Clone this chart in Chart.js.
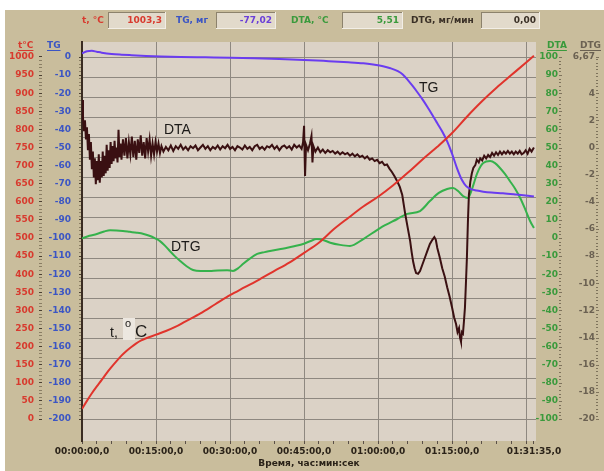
<!DOCTYPE html>
<html>
<head>
<meta charset="utf-8">
<script src="https://cdn.jsdelivr.net/npm/chart.js@4.4.1/dist/chart.umd.min.js"></script>
<style>
  body { margin: 0; background: #fff; }
  canvas { display: block; }
</style>
</head>
<body>
<canvas id="thermoChart" width="604" height="471"></canvas>
<script>
// all curves are [minutes from start, value]
const tempCurve = [[0,28],[1,50],[2,71],[3,90],[4,108],[5,127],[6,144],[7,160],[8,175],[9,188],[10,199],
  [11,209],[12,217],[13,223],[14,228],[15,233],[17,243],[19,255],[21,270],[24,292],[27,317],[30,342],
  [33,364],[36,386],[39,409],[42,432],[45,459],[48,487],[51,524],[54,556],[57,587],[60,614],[63,645],
  [66,680],[69,717],[72,752],[75,790],[78,835],[81,877],[84,915],[87,950],[90,985],[91.58,1003.3]];

const tgCurve = [[0,2.0],[1,3.2],[2,3.4],[3,2.9],[4,2.4],[6,1.7],[8,1.3],[10,1.0],[13,0.6],[16,0.3],
  [20,0.0],[25,-0.2],[30,-0.4],[35,-0.7],[40,-1.1],[45,-1.6],[50,-2.3],[54,-2.9],[57,-3.5],[59,-4.2],
  [61,-5.1],[62.5,-6.2],[64,-7.8],[65,-9.6],[66,-12.6],[67,-16.0],[68,-19.6],[69,-23.4],[70,-27.6],
  [71,-32.0],[72,-36.6],[73,-41.2],[74,-46.6],[75,-53.5],[76,-61.5],[77,-68.0],[77.8,-71.2],[78.7,-72.9],
  [80,-73.8],[81.3,-74.4],[83,-74.9],[85.3,-75.3],[88,-76.0],[91.58,-77.02]];

// green curve, read on the DTA scale
const dtaCurve = [[0,-0.2],[1.5,1.2],[3,2.2],[4.5,3.6],[5.7,4.3],[7,4.2],[8.3,3.9],[9.7,3.4],[11.1,2.9],
  [12.5,2.2],[13.8,1.1],[14.8,-0.2],[15.8,-1.7],[16.8,-4.2],[17.8,-7.2],[18.8,-10.0],[19.9,-12.7],
  [21.2,-15.6],[22.5,-17.7],[24,-18.3],[25.9,-18.2],[27.5,-17.9],[29.4,-17.8],[30.6,-18.2],[31.6,-16.8],
  [32.6,-14.4],[34,-11.4],[35.5,-8.8],[37,-7.8],[38.1,-7.2],[40,-6.2],[41.6,-5.4],[43.2,-4.4],[44.8,-3.3],
  [46.2,-1.8],[47.6,-0.6],[49,-1.2],[50.3,-2.6],[52.3,-3.8],[54.3,-4.4],[57,-0.6],[60.4,5.5],[63.9,10.5],
  [65.9,13.3],[68.5,14.9],[70.5,20.4],[72.3,24.9],[74,27.1],[75.2,27.6],[76.2,26.0],[77.2,23.2],[78.2,22.1],
  [79.1,27.6],[80.1,35.9],[81.3,41.4],[82.7,42.5],[83.7,41.4],[84.7,38.7],[85.7,35.4],[86.7,31.5],
  [87.8,27.1],[88.8,22.1],[89.8,16.0],[90.8,9.4],[91.58,5.51]];

// dark curve, read on the DTG scale
const dtgCurve = [[0,3.5],[0.2,2.2],[0.4,1.2],[0.6,2.0],[0.8,0.6],[1.0,1.5],[1.2,-0.2],[1.4,1.0],[1.6,-0.9],[1.8,0.4],
  [2.0,-1.6],[2.2,-0.3],[2.4,-2.2],[2.6,-0.8],[2.8,-2.7],[3.0,-1.0],[3.2,-2.4],[3.4,-0.5],[3.6,-2.6],[3.8,-1.0],
  [4.0,-2.2],[4.2,-0.3],[4.4,-2.1],[4.6,-0.6],[4.8,-1.9],[5.0,0.2],[5.2,-1.7],[5.4,-0.2],[5.6,-1.5],[5.8,0.4],
  [6.0,-1.2],[6.2,0.1],[6.4,-1.0],[6.6,0.5],[6.8,-0.8],[7.0,0.0],[7.2,-1.1],[7.4,1.3],[7.6,-0.7],[7.8,0.3],
  [8.0,-0.9],[8.3,0.6],[8.6,-0.6],[8.9,0.7],[9.2,-0.8],[9.5,0.4],[9.8,-0.5],[10.1,0.8],[10.4,-0.7],[10.7,0.5],
  [11.0,-0.9],[11.3,0.6],[11.6,-0.4],[11.9,0.9],[12.2,-0.6],[12.5,0.4],[12.8,-0.8],[13.1,0.7],[13.4,-0.3],[13.7,0.6],
  [14.0,-0.6],[14.3,0.3],[14.6,-0.5],[14.9,0.4],[15.2,-0.3],[15.5,0.3],[15.8,-0.4],[16.1,0.1],[16.5,-0.3],[17.0,0.05],
  [17.5,-0.2],[18,0.15],[18.5,-0.25],[19,0.1],[19.5,-0.1],[20,0.2],[20.5,-0.15],[21,0.05],[21.5,-0.2],[22,0.1],
  [22.5,-0.05],[23,0.15],[23.5,-0.2],[24,0.0],[24.5,0.2],[25,-0.1],[25.5,0.1],[26,-0.2],[26.5,0.05],[27,-0.1],
  [27.5,0.15],[28,-0.15],[28.5,0.1],[29,-0.05],[29.5,0.2],[30,-0.1],[30.5,0.05],[31,-0.2],[31.5,0.1],[32,0.0],
  [32.5,-0.15],[33,0.15],[33.5,-0.1],[34,0.05],[34.5,-0.2],[35,0.1],[35.5,0.2],[36,-0.1],[36.5,0.05],[37,-0.15],
  [37.5,0.1],[38,0.0],[38.5,0.2],[39,-0.1],[39.5,0.1],[40,-0.2],[40.5,0.05],[41,0.15],[41.5,-0.05],[42,0.1],
  [42.5,-0.15],[43,0.2],[43.5,0.0],[44,0.15],[44.5,-0.1],
  [44.8,0.4],[45.0,1.6],[45.2,-2.1],[45.4,0.2],[45.8,-0.2],[46.2,0.3],[46.5,0.85],[46.7,-1.1],[46.9,0.1],[47.3,-0.3],
  [47.8,0.0],[48.3,-0.35],[48.8,-0.15],[49.3,-0.4],[49.8,-0.2],
  [50.3,-0.35],[50.8,-0.25],[51.3,-0.45],[51.8,-0.3],[52.3,-0.5],[52.8,-0.35],[53.3,-0.5],[53.8,-0.4],[54.3,-0.6],[54.8,-0.45],
  [55.3,-0.65],[55.8,-0.5],[56.3,-0.7],[56.8,-0.6],[57.3,-0.8],[57.8,-0.65],[58.3,-0.9],[58.8,-0.8],[59.3,-1.0],[59.8,-0.9],
  [60.3,-1.15],[60.8,-1.05],[61.3,-1.3],[61.8,-1.25],[62.3,-1.55],[62.8,-1.8],[63.3,-2.1],[63.9,-2.5],[64.4,-2.9],[64.9,-3.5],
  [65.2,-4.2],[65.5,-4.9],[66.0,-5.9],[66.5,-6.9],[66.8,-7.7],[67.1,-8.4],[67.4,-8.9],[67.7,-9.25],[68.1,-9.3],[68.5,-9.1],
  [69.0,-8.6],[69.5,-8.1],[70.0,-7.6],[70.5,-7.1],[71.0,-6.8],[71.4,-6.6],[71.7,-6.8],[72.0,-7.4],[72.5,-8.1],[73.0,-8.9],
  [73.5,-9.5],[74.0,-10.3],[74.5,-11.0],[75.0,-11.8],[75.4,-12.5],[75.8,-13.0],[76.1,-13.6],[76.4,-13.3],[76.6,-14.0],[76.8,-14.3],
  [77.0,-13.6],[77.2,-13.7],[77.4,-12.8],[77.6,-11.8],[77.8,-10.0],[78.0,-8.1],[78.2,-5.5],[78.4,-3.5],[78.7,-2.5],[79.0,-1.9],
  [79.3,-1.5],[79.7,-1.3],[80.0,-0.9],[80.4,-1.1],[80.7,-0.8],[81.1,-0.95],[81.5,-0.6],[81.9,-0.8],[82.3,-0.55],[82.7,-0.7],
  [83.1,-0.4],[83.5,-0.6],[83.9,-0.35],[84.3,-0.55],[84.7,-0.3],[85.1,-0.5],[85.5,-0.3],[85.9,-0.45],[86.3,-0.25],[86.7,-0.45],
  [87.1,-0.3],[87.5,-0.5],[87.9,-0.3],[88.3,-0.45],[88.7,-0.25],[89.1,-0.5],[89.5,-0.4],[89.9,-0.2],[90.3,-0.45],[90.7,-0.1],
  [91.1,-0.3],[91.58,0.0]];

// time axis
const timeTicks = [0, 15, 30, 45, 60, 75, 91.5833];
const timeTickLabels = ['00:00:00,0', '00:15:00,0', '00:30:00,0', '00:45:00,0', '01:00:00,0', '01:15:00,0', '01:31:35,0'];
const timeGridStep = 15;
const timeMinorStep = 3;

// vertical axes: labelled range and label step
const tempRange = [0, 1000], tempStep = 50;
const tgRange = [-200, 0], tgStep = 10;
const dtaRange = [-100, 100], dtaStep = 10;
const dtgTicks = [6.67, 4, 2, 0, -2, -4, -6, -8, -10, -12, -14, -16, -18, -20];
const dtgTickLabels = ['6,67', '4', '2', '0', '-2', '-4', '-6', '-8', '-10', '-12', '-14', '-16', '-18', '-20'];

// readout bar
const readoutNames = ['t, °C', 'TG, мг', 'DTA, °C', 'DTG, мг/мин'];
const readoutValues = ['1003,3', '-77,02', '5,51', '0,00'];

const RED = '#d83a2e', BLUE = '#3b55c4', GREEN = '#3a9a3c', GREY = '#6b6152';

// all y scales put their first and last label on the same pixel rows
const TICK_TOP = 57, TICK_BOTTOM = 419, AREA_TOP = 42, AREA_BOTTOM = 441;
function paddedRange(lo, hi) {
    const perPx = (hi - lo) / (TICK_BOTTOM - TICK_TOP);
    return { min: lo - (AREA_BOTTOM - TICK_BOTTOM) * perPx, max: hi + (TICK_TOP - AREA_TOP) * perPx };
}

function toPoints(curve) {
    return curve.map(p => ({ x: p[0], y: p[1] }));
}

function stepTicks(lo, hi, step) {
    const out = [];
    for (let k = Math.round(lo / step); k <= Math.round(hi / step); k++) out.push({ value: k * step });
    return out;
}

const axisFont = { family: '"DejaVu Sans", Verdana, sans-serif', size: 9, weight: 'bold' };

function leftAxis(range, step, color, weight, width, padding) {
    const r = paddedRange(range[0], range[1]);
    const minor = step / 5;
    return {
        position: 'left', weight: weight, min: r.min, max: r.max,
        afterBuildTicks: axis => { axis.ticks = stepTicks(range[0], range[1], minor); },
        afterFit: axis => { axis.width = width; },
        grid: {
            drawOnChartArea: false, tickLength: 3,
            tickColor: ctx => Math.abs(ctx.tick.value % step) < 1e-6 ? '#4b4032' : '#8a7e64'
        },
        border: { display: false },
        ticks: {
            color: color, font: axisFont, padding: padding, autoSkip: false,
            callback: v => Math.abs(v % step) < 1e-6 ? String(Math.round(v)) : ''
        }
    };
}

function rightAxis(range, minor, isLabel, label, color, weight, width) {
    const r = paddedRange(range[0], range[1]);
    return {
        position: 'right', weight: weight, min: r.min, max: r.max,
        afterFit: axis => { axis.width = width; },
        grid: { drawOnChartArea: false, drawTicks: false },
        border: { display: false },
        ticks: {
            color: color, font: axisFont, padding: 0, autoSkip: false, crossAlign: 'far',
            callback: v => isLabel(v) ? label(v) : ''
        },
        minorStep: minor
    };
}

const dtaAxis = rightAxis(dtaRange, 2, v => Math.abs(v % dtaStep) < 1e-6, v => String(Math.round(v)), GREEN, 1, 22);
dtaAxis.afterBuildTicks = axis => { axis.ticks = stepTicks(dtaRange[0], dtaRange[1], 2); };

const dtgIndex = v => dtgTicks.findIndex(t => Math.abs(t - v) < 1e-6);
const dtgAxis = rightAxis([dtgTicks[dtgTicks.length - 1], dtgTicks[0]], 0.25, v => dtgIndex(v) >= 0,
    v => dtgTickLabels[dtgIndex(v)], GREY, 2, 37);
dtgAxis.afterBuildTicks = axis => {
    const t = stepTicks(dtgTicks[dtgTicks.length - 1], 6.5, 0.25);
    t.push({ value: dtgTicks[0] });
    axis.ticks = t;
};

const gridRange = paddedRange(0, 18);

const panelPlugin = {
    id: 'panel',
    beforeDraw(chart) {
        const { ctx, chartArea: a } = chart;
        ctx.save();
        ctx.fillStyle = '#ffffff';
        ctx.fillRect(0, 0, chart.width, chart.height);
        ctx.fillStyle = '#c9bd9c';
        ctx.fillRect(5, 10, chart.width - 5, chart.height - 10);
        ctx.fillStyle = '#dbd2c6';
        ctx.fillRect(a.left, a.top, a.right - a.left, a.bottom - a.top);
        ctx.restore();
    },
    afterDatasetsDraw(chart) {
        const ctx = chart.ctx;
        ctx.save();
        ctx.fillStyle = '#1c1a18';
        ctx.textBaseline = 'middle';
        ctx.font = '14px "Liberation Sans", Arial, sans-serif';
        ctx.fillText('TG', 419, 88);
        ctx.fillText('DTA', 164, 130);
        ctx.fillText('DTG', 171, 247);
        ctx.fillText('t,', 110, 333);
        ctx.fillStyle = '#ece7e0';
        ctx.fillRect(123, 318, 12, 22);
        ctx.fillStyle = '#1c1a18';
        ctx.font = '11px "Liberation Sans", Arial, sans-serif';
        ctx.fillText('o', 125, 324);
        ctx.font = '17px "Liberation Sans", Arial, sans-serif';
        ctx.fillText('C', 135, 332);
        ctx.restore();
    },
    afterDraw(chart) {
        const ctx = chart.ctx;
        ctx.save();
        // dotted tick columns of the right-hand scales
        ['yDTA', 'yDTG'].forEach(id => {
            const s = chart.scales[id];
            ctx.strokeStyle = '#7e735c';
            ctx.lineWidth = 1;
            s.ticks.forEach(t => {
                const y = Math.round(s.getPixelForValue(t.value)) + 0.5;
                ctx.beginPath();
                ctx.moveTo(s.right + 1, y);
                ctx.lineTo(s.right + (t.label ? 4 : 3), y);
                ctx.stroke();
            });
        });
        // scale headers
        ctx.font = 'bold 9px "DejaVu Sans", Verdana, sans-serif';
        ctx.textBaseline = 'alphabetic';
        const heads = [['t°C', 18, RED], ['TG', 47, BLUE], ['DTA', 547, GREEN], ['DTG', 580, GREY]];
        heads.forEach(h => {
            ctx.fillStyle = h[2];
            ctx.fillText(h[0], h[1], 48);
            const w = ctx.measureText(h[0]).width;
            ctx.fillRect(h[1], 50, w, 1);
        });
        // readout bar
        const slots = [[82, 108, 58], [176, 216, 60], [291, 342, 61], [411, 481, 59]];
        const colors = [RED, '#6a3fd8', GREEN, '#3a3026'];
        const nameColors = [RED, BLUE, GREEN, '#3a3026'];
        slots.forEach((s, i) => {
            const y0 = 12, h = 17;
            ctx.fillStyle = '#e2dacb';
            ctx.fillRect(s[1], y0, s[2], h);
            ctx.fillStyle = '#8c826c';
            ctx.fillRect(s[1], y0, s[2], 1);
            ctx.fillRect(s[1], y0, 1, h);
            ctx.fillStyle = '#f2eee6';
            ctx.fillRect(s[1], y0 + h - 1, s[2], 1);
            ctx.fillRect(s[1] + s[2] - 1, y0, 1, h);
            ctx.textBaseline = 'middle';
            ctx.textAlign = 'left';
            ctx.fillStyle = nameColors[i];
            ctx.fillText(readoutNames[i], s[0], y0 + h / 2);
            ctx.textAlign = 'right';
            ctx.fillStyle = colors[i];
            ctx.fillText(readoutValues[i], s[1] + s[2] - 4, y0 + h / 2);
        });
        ctx.restore();
    }
};

function line(curve, axis, color, tension) {
    return {
        data: toPoints(curve), yAxisID: axis, borderColor: color, borderWidth: 2,
        pointRadius: 0, fill: false, tension: tension,
        cubicInterpolationMode: tension ? 'monotone' : 'default'
    };
}

new Chart(document.getElementById('thermoChart'), {
    type: 'line',
    data: {
        datasets: [
            line(tempCurve, 'yT', '#e0342c', 0.4),
            line(tgCurve, 'yTG', '#6a3cf0', 0.4),
            line(dtgCurve, 'yDTG', '#3a1012', 0),
            line(dtaCurve, 'yDTA', '#35b24c', 0.4)
        ]
    },
    options: {
        responsive: false,
        animation: false,
        devicePixelRatio: 1,
        layout: { padding: { top: AREA_TOP, left: 0, right: 9, bottom: 0 } },
        plugins: { legend: { display: false }, tooltip: { enabled: false } },
        scales: {
            x: {
                type: 'linear', min: 0, max: 92,
                afterBuildTicks: axis => {
                    const t = stepTicks(0, 90, timeMinorStep);
                    t.push({ value: timeTicks[timeTicks.length - 1] });
                    axis.ticks = t;
                },
                afterFit: axis => { axis.height = 30; },
                grid: {
                    color: ctx => (ctx.tick && Math.abs(ctx.tick.value % timeGridStep) < 1e-6) ? '#8e8880' : 'rgba(0,0,0,0)',
                    tickColor: '#5b5048', tickLength: 3
                },
                border: { display: false },
                ticks: {
                    autoSkip: false, maxRotation: 0, padding: 2, color: '#2a2218', font: axisFont,
                    callback: v => {
                        const i = timeTicks.findIndex(t => Math.abs(t - v) < 0.01);
                        return i >= 0 ? timeTickLabels[i] : '';
                    }
                },
                title: {
                    display: true, text: 'Время, час:мин:сек', color: '#2a2218', font: axisFont,
                    padding: { top: 0, bottom: 2 }
                }
            },
            yT: leftAxis(tempRange, tempStep, RED, 2, 42, 5),
            yTG: Object.assign(leftAxis(tgRange, tgStep, BLUE, 1, 40, 8),
                { border: { display: true, color: '#3a2c22', width: 2 } }),
            yGrid: {
                position: 'left', weight: 0, min: gridRange.min, max: gridRange.max,
                afterBuildTicks: axis => { axis.ticks = stepTicks(0, 18, 1); },
                afterFit: axis => { axis.width = 0; },
                ticks: { display: false },
                grid: { color: '#8e8880', drawTicks: false },
                border: { display: false }
            },
            yDTA: dtaAxis,
            yDTG: dtgAxis
        }
    },
    plugins: [panelPlugin]
});
</script>
</body>
</html>
